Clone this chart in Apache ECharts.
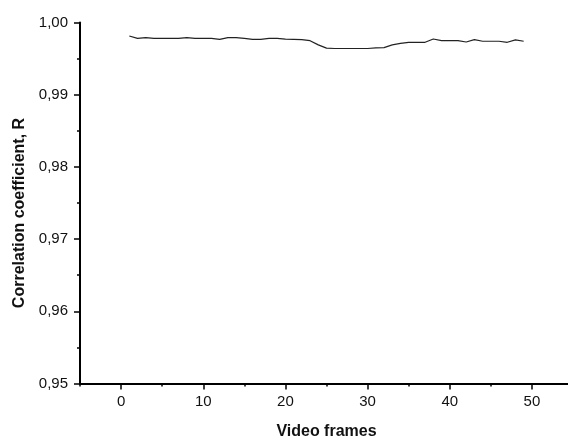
<!DOCTYPE html>
<html>
<head>
<meta charset="utf-8">
<script src="https://cdn.jsdelivr.net/npm/echarts@6/dist/echarts.min.js"></script>
<style>html,body{margin:0;padding:0;background:#fff}#c{width:568px;height:438px}</style>
</head>
<body>
<div id="c"></div>
<script>
const frames = [1,2,3,4,5,6,7,8,9,10,11,12,13,14,15,16,17,18,19,20,21,22,23,24,25,26,27,28,29,30,31,32,33,34,35,36,37,38,39,40,41,42,43,44,45,46,47,48,49];
const corr = [0.99813,0.9978,0.9979,0.9978,0.9978,0.9978,0.9978,0.9979,0.9978,0.9978,0.9978,0.99767,0.9979,0.9979,0.9978,0.99767,0.99767,0.9978,0.9978,0.9977,0.99767,0.99762,0.99748,0.99690,0.99645,0.99640,0.99640,0.99640,0.99640,0.99640,0.99648,0.99652,0.99690,0.99710,0.99724,0.99726,0.99726,0.99771,0.99750,0.99748,0.99748,0.9973,0.99762,0.9974,0.9974,0.9974,0.99726,0.9976,0.9974];
const xMajorTicks = [0,10,20,30,40,50];
const yTickLabels = ['0,95','0,96','0,97','0,98','0,99','1,00'];

const chart = echarts.init(document.getElementById('c'), null, {renderer:'canvas'});
const font = 'Liberation Sans, Arial, sans-serif';
chart.setOption({
  animation:false,
  grid:{left:80, top:22.5, right:-5, bottom:54.5, containLabel:false, outerBoundsMode:'none'},
  xAxis:[{
    type:'value', min:-5, max:55, interval:5,
    name:'Video frames', nameLocation:'middle', nameGap:40,
    nameTextStyle:{fontFamily:font, fontWeight:'bold', fontSize:16, color:'#111'},
    axisLine:{onZero:false, lineStyle:{color:'#000', width:2}},
    axisTick:{length:3, lineStyle:{color:'#000', width:1.5}},
    axisLabel:{fontFamily:font, fontSize:15, color:'#111', margin:11,
      formatter:v => xMajorTicks.indexOf(v) >= 0 ? String(v) : ''},
    splitLine:{show:false}
  },{
    type:'value', min:-5, max:55, position:'bottom',
    axisLine:{show:false, onZero:false},
    axisTick:{show:true, length:6, customValues:xMajorTicks, lineStyle:{color:'#000', width:1.5}},
    axisLabel:{show:false},
    splitLine:{show:false}
  }],
  yAxis:{
    type:'value', min:0.95, max:1.00, interval:0.01,
    name:'Correlation coefficient, R', nameLocation:'middle', nameGap:51,
    nameTextStyle:{fontFamily:font, fontWeight:'bold', fontSize:16, color:'#111', padding:[0,20,0,0]},
    axisLine:{show:true, onZero:false, lineStyle:{color:'#000', width:2}},
    axisTick:{show:true, length:6, lineStyle:{color:'#000', width:1.5}},
    minorTick:{show:true, splitNumber:2, length:3, lineStyle:{color:'#000', width:1.5}},
    axisLabel:{fontFamily:font, fontSize:15, color:'#111', margin:12,
      formatter:v => yTickLabels[Math.round((v-0.95)*100)]},
    splitLine:{show:false}
  },
  series:[{
    type:'line', xAxisIndex:0, data:frames.map((f,i)=>[f,corr[i]]),
    showSymbol:false, lineStyle:{color:'#222', width:1.2}
  }]
});
</script>
</body>
</html>
